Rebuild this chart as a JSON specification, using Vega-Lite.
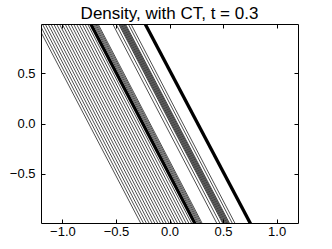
{
  "$schema": "https://vega.github.io/schema/vega-lite/v6.json",
  "width": 257,
  "height": 199,
  "autosize": {"type": "none"},
  "padding": {"left": 41, "top": 24, "right": 34, "bottom": 26},
  "background": "white",
  "config": {
    "view": {"stroke": "black", "strokeWidth": 1},
    "font": "Liberation Sans",
    "axis": {
      "domain": false,
      "grid": false,
      "ticks": true,
      "tickColor": "black",
      "tickWidth": 1,
      "tickSize": -4,
      "labelFont": "Liberation Sans",
      "labelFontSize": 13,
      "labelColor": "black",
      "title": null
    }
  },
  "title": {"text": "Density, with CT, t = 0.3", "font": "Liberation Sans", "fontSize": 17, "fontWeight": "normal", "color": "black", "offset": 1},
  "data": {"values": [
    {"id": 1, "x": -1.245, "y": 1}, {"id": 1, "x": -0.265, "y": -1},
    {"id": 2, "x": -1.219, "y": 1}, {"id": 2, "x": -0.239, "y": -1},
    {"id": 3, "x": -1.192, "y": 1}, {"id": 3, "x": -0.212, "y": -1},
    {"id": 4, "x": -1.166, "y": 1}, {"id": 4, "x": -0.186, "y": -1},
    {"id": 5, "x": -1.139, "y": 1}, {"id": 5, "x": -0.159, "y": -1},
    {"id": 6, "x": -1.113, "y": 1}, {"id": 6, "x": -0.133, "y": -1},
    {"id": 7, "x": -1.086, "y": 1}, {"id": 7, "x": -0.106, "y": -1},
    {"id": 8, "x": -1.06, "y": 1}, {"id": 8, "x": -0.08, "y": -1},
    {"id": 9, "x": -1.033, "y": 1}, {"id": 9, "x": -0.053, "y": -1},
    {"id": 10, "x": -1.007, "y": 1}, {"id": 10, "x": -0.027, "y": -1},
    {"id": 11, "x": -0.98, "y": 1}, {"id": 11, "x": 0.0, "y": -1},
    {"id": 12, "x": -0.954, "y": 1}, {"id": 12, "x": 0.026, "y": -1},
    {"id": 13, "x": -0.927, "y": 1}, {"id": 13, "x": 0.053, "y": -1},
    {"id": 14, "x": -0.901, "y": 1}, {"id": 14, "x": 0.079, "y": -1},
    {"id": 15, "x": -0.874, "y": 1}, {"id": 15, "x": 0.106, "y": -1},
    {"id": 16, "x": -0.848, "y": 1}, {"id": 16, "x": 0.132, "y": -1},
    {"id": 17, "x": -0.821, "y": 1}, {"id": 17, "x": 0.159, "y": -1},
    {"id": 18, "x": -0.795, "y": 1}, {"id": 18, "x": 0.185, "y": -1},
    {"id": 19, "x": -0.77, "y": 1}, {"id": 19, "x": 0.21, "y": -1},
    {"id": 22, "x": -0.74, "y": 1}, {"id": 22, "x": 0.24, "y": -1},
    {"id": 25, "x": -0.716, "y": 1}, {"id": 25, "x": 0.264, "y": -1},
    {"id": 26, "x": -0.705, "y": 1}, {"id": 26, "x": 0.275, "y": -1},
    {"id": 27, "x": -0.694, "y": 1}, {"id": 27, "x": 0.286, "y": -1},
    {"id": 28, "x": -0.683, "y": 1}, {"id": 28, "x": 0.297, "y": -1},
    {"id": 29, "x": -0.672, "y": 1}, {"id": 29, "x": 0.308, "y": -1},
    {"id": 30, "x": -0.535, "y": 1}, {"id": 30, "x": 0.445, "y": -1},
    {"id": 31, "x": -0.505, "y": 1}, {"id": 31, "x": 0.475, "y": -1},
    {"id": 32, "x": -0.48, "y": 1}, {"id": 32, "x": 0.5, "y": -1},
    {"id": 33, "x": -0.472, "y": 1}, {"id": 33, "x": 0.508, "y": -1},
    {"id": 34, "x": -0.464, "y": 1}, {"id": 34, "x": 0.516, "y": -1},
    {"id": 35, "x": -0.456, "y": 1}, {"id": 35, "x": 0.524, "y": -1},
    {"id": 36, "x": -0.448, "y": 1}, {"id": 36, "x": 0.532, "y": -1},
    {"id": 37, "x": -0.44, "y": 1}, {"id": 37, "x": 0.54, "y": -1},
    {"id": 38, "x": -0.432, "y": 1}, {"id": 38, "x": 0.548, "y": -1},
    {"id": 39, "x": -0.424, "y": 1}, {"id": 39, "x": 0.556, "y": -1},
    {"id": 45, "x": -0.416, "y": 1}, {"id": 45, "x": 0.564, "y": -1},
    {"id": 40, "x": -0.39, "y": 1}, {"id": 40, "x": 0.59, "y": -1},
    {"id": 41, "x": -0.365, "y": 1}, {"id": 41, "x": 0.615, "y": -1},
    {"id": 42, "x": -0.232, "y": 1}, {"id": 42, "x": 0.758, "y": -1}
  ]},
  "layer": [
    {
      "transform": [{"filter": "datum.id != 42 && datum.id != 22"}],
      "mark": {"type": "line", "clip": true, "color": "black", "strokeWidth": 0.7},
      "encoding": {
        "x": {"field": "x", "type": "quantitative", "scale": {"domain": [-1.2, 1.2], "nice": false, "zero": false},
              "axis": {"orient": "bottom", "values": [-1, -0.5, 0, 0.5, 1], "format": ".1f", "labelPadding": 6}},
        "y": {"field": "y", "type": "quantitative", "scale": {"domain": [-0.99, 0.99], "nice": false, "zero": false},
              "axis": {"orient": "left", "values": [-0.5, 0, 0.5], "format": ".1f", "labelPadding": 10}},
        "detail": {"field": "id", "type": "nominal"}
      }
    },
    {
      "transform": [{"filter": "datum.id == 42 || datum.id == 22"}],
      "mark": {"type": "line", "clip": true, "color": "black", "strokeWidth": 3.3},
      "encoding": {
        "x": {"field": "x", "type": "quantitative", "axis": null},
        "y": {"field": "y", "type": "quantitative", "axis": null},
        "detail": {"field": "id", "type": "nominal"}
      }
    },
    {
      "mark": {"type": "line", "clip": true, "opacity": 0},
      "encoding": {
        "x": {"field": "x", "type": "quantitative", "axis": {"orient": "top", "values": [-1, -0.5, 0, 0.5, 1], "labels": false}},
        "y": {"field": "y", "type": "quantitative", "axis": {"orient": "right", "values": [-0.5, 0, 0.5], "labels": false}},
        "detail": {"field": "id", "type": "nominal"}
      }
    }
  ],
  "resolve": {"axis": {"x": "independent", "y": "independent"}}
}
